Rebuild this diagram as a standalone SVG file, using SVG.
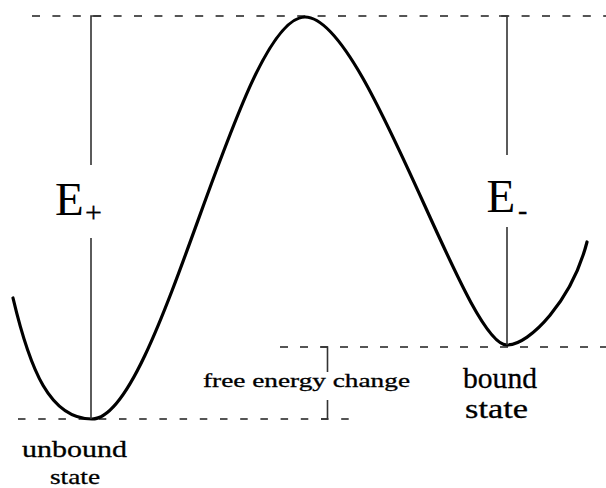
<svg xmlns="http://www.w3.org/2000/svg" width="606" height="488" viewBox="0 0 606 488">
  <style>
    .curve { fill: none; stroke: #000; stroke-width: 3.2; stroke-linecap: round; stroke-linejoin: round; }
    .dash { fill: none; stroke: #555; stroke-width: 2; stroke-dasharray: 8 12.4; }
    .rule { fill: none; stroke: #333; stroke-width: 1.6; }
    .lbl { font-family: "Liberation Serif", "Times New Roman", serif; fill: #000; }
    .heavy { stroke: #000; stroke-width: 0.3; }
  </style>
  <rect width="606" height="488" fill="#fff"/>

  <g id="guides">
    <line class="dash" x1="32" y1="16" x2="606" y2="16"/>
    <line class="dash" x1="18" y1="419" x2="352" y2="419" style="stroke-dasharray: 7.5 12.7"/>
    <line class="dash" x1="280" y1="347" x2="606" y2="347" style="stroke-dasharray: 8 12"/>
  </g>

  <g id="energy-curve">
    <path class="curve" d="M13,298 C30,370 50,419 92,419 C160,419 238,17 305,17 C367.7,17 464.5,345 507,345 C530,345 572,300 587,242"/>
  </g>

  <g id="connectors">
    <path class="rule" d="M101,16 H91 V165"/>
    <line class="rule" x1="91" y1="238" x2="91" y2="419"/>
    <path class="rule" d="M499,16 H507 V155"/>
    <line class="rule" x1="507" y1="227" x2="507" y2="345"/>
    <path class="rule" d="M321,347 H327.5 V372"/>
    <path class="rule" d="M321,419 H327.5 V400"/>
  </g>

  <g id="label-e-plus">
    <text class="lbl" x="55" y="215" font-size="47">E</text>
    <text class="lbl heavy" x="85" y="222" font-size="30">+</text>
  </g>

  <g id="label-e-minus">
    <text class="lbl" x="486.5" y="212" font-size="47">E</text>
    <text class="lbl heavy" x="518" y="219" font-size="28">-</text>
  </g>

  <g id="label-free-energy">
    <text class="lbl heavy" x="203" y="387" font-size="19" textLength="207" lengthAdjust="spacingAndGlyphs">free energy change</text>
  </g>

  <g id="node-unbound-state">
    <text class="lbl heavy" x="22" y="457" font-size="24" textLength="105" lengthAdjust="spacingAndGlyphs">unbound</text>
    <text class="lbl heavy" x="50" y="484" font-size="21" textLength="50" lengthAdjust="spacingAndGlyphs">state</text>
  </g>

  <g id="node-bound-state">
    <text class="lbl heavy" x="463" y="388" font-size="29" textLength="74" lengthAdjust="spacingAndGlyphs">bound</text>
    <text class="lbl heavy" x="465" y="418" font-size="28" textLength="63" lengthAdjust="spacingAndGlyphs">state</text>
  </g>
</svg>
